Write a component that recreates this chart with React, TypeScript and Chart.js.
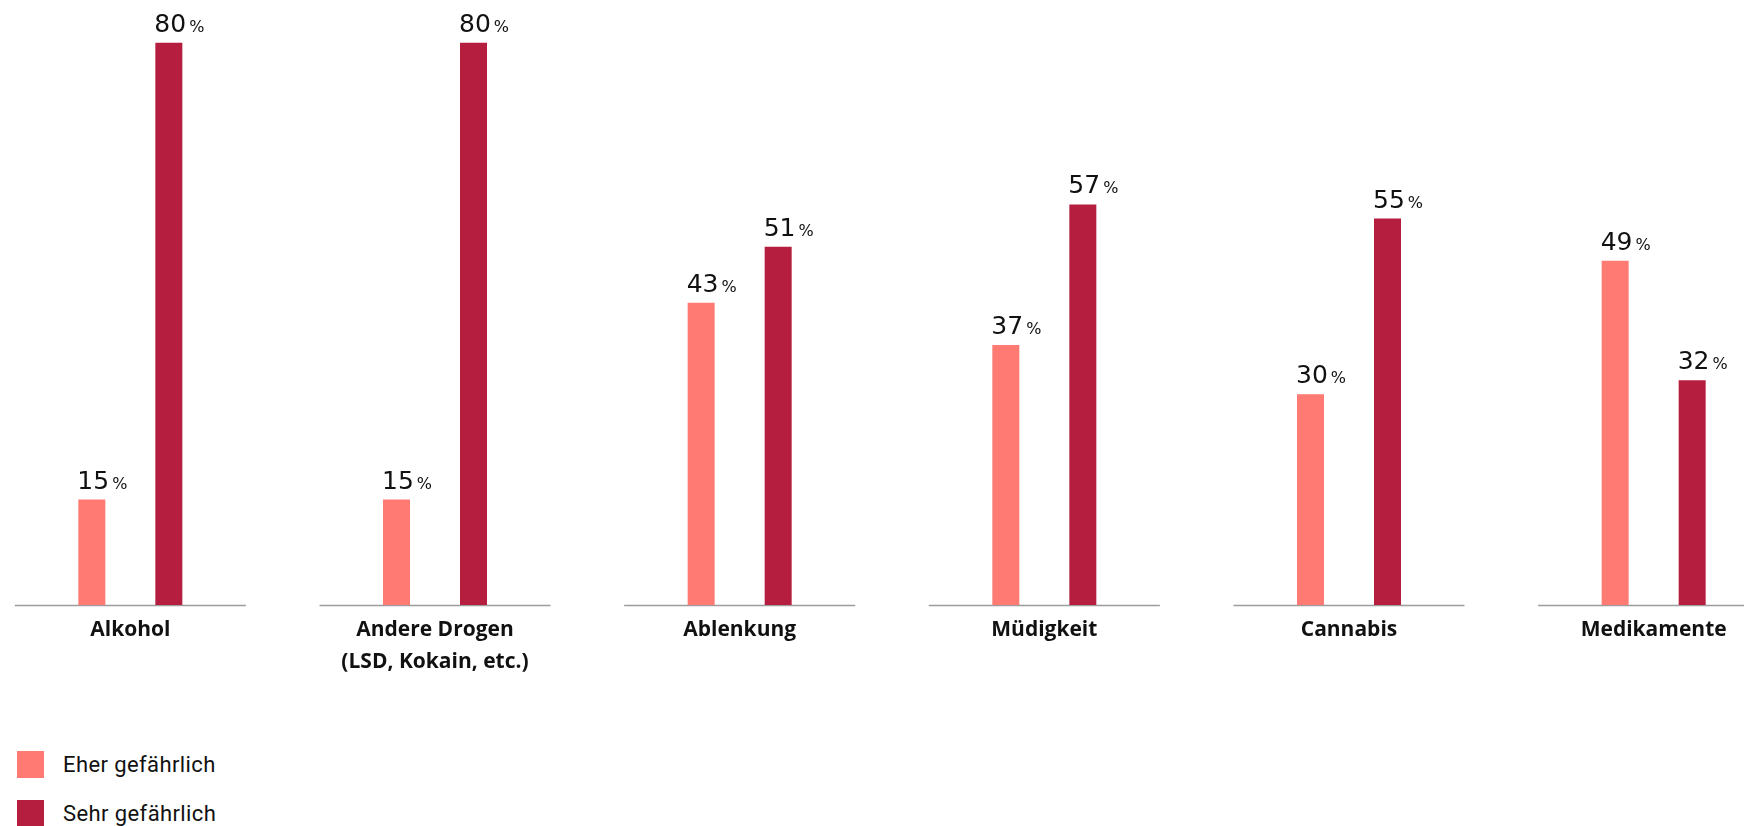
import React, { useEffect, useRef } from "react";
import { Chart, registerables } from "chart.js";

Chart.register(...registerables);

const categories: (string | string[])[] = [
  "Alkohol",
  ["Andere Drogen", "(LSD, Kokain, etc.)"],
  "Ablenkung",
  "Müdigkeit",
  "Cannabis",
  "Medikamente",
];
const eherGefaehrlich = [15, 15, 43, 37, 30, 49];
const sehrGefaehrlich = [80, 80, 51, 57, 55, 32];
const seriesNames = ["Eher gefährlich", "Sehr gefährlich"];
const seriesColors = ["#FF7A73", "#B51E3E"];

const baselinePlugin = {
  id: "segBaseline",
  beforeDatasetsDraw(chart: any) {
    const { ctx, scales } = chart;
    const x = scales.x;
    const y = scales.y;
    const y0 = y.getPixelForValue(0);
    ctx.save();
    ctx.strokeStyle = "#9c9c9c";
    ctx.lineWidth = 1.5;
    for (let i = 0; i < categories.length; i++) {
      const cx = x.getPixelForValue(i);
      ctx.beginPath();
      ctx.moveTo(cx - 115.5, y0 + 0.5);
      ctx.lineTo(cx + 115.5, y0 + 0.5);
      ctx.stroke();
    }
    ctx.restore();
  },
};

const valueLabelPlugin = {
  id: "valueLabels",
  afterDatasetsDraw(chart: any) {
    const { ctx } = chart;
    ctx.save();
    ctx.fillStyle = "#111111";
    ctx.textBaseline = "alphabetic";
    ctx.textAlign = "left";
    chart.data.datasets.forEach((ds: any, di: number) => {
      const meta = chart.getDatasetMeta(di);
      meta.data.forEach((bar: any, i: number) => {
        const left = bar.x - bar.width / 2;
        const top = bar.y - 11;
        const txt = String(ds.data[i]);
        ctx.font = "25px 'DejaVu Sans'";
        ctx.fillText(txt, left - 1, top);
        const w = ctx.measureText(txt).width;
        ctx.font = "16px 'DejaVu Sans'";
        ctx.fillText("%", left - 1 + w + 3, top);
      });
    });
    ctx.restore();
  },
};

export default function App() {
  const canvasRef = useRef<HTMLCanvasElement | null>(null);

  useEffect(() => {
    if (!canvasRef.current) return;
    const chart = new Chart(canvasRef.current, {
      type: "bar",
      data: {
        labels: categories,
        datasets: [
          {
            label: seriesNames[0],
            data: eherGefaehrlich,
            backgroundColor: seriesColors[0],
            categoryPercentage: 0.5055,
            barPercentage: 0.3506,
          },
          {
            label: seriesNames[1],
            data: sehrGefaehrlich,
            backgroundColor: seriesColors[1],
            categoryPercentage: 0.5055,
            barPercentage: 0.3506,
          },
        ],
      },
      options: {
        animation: false,
        responsive: false,
        maintainAspectRatio: false,
        layout: { padding: 0 },
        plugins: {
          legend: { display: false },
          tooltip: { enabled: false },
        },
        scales: {
          x: {
            grid: { display: false, drawTicks: false },
            border: { display: false },
            ticks: {
              color: "#111111",
              padding: 9,
              font: { family: "'Open Sans'", size: 21, weight: "bold", lineHeight: 1.52 },
              maxRotation: 0,
              autoSkip: false,
            },
            afterFit: (scale: any) => {
              scale.height = 95;
            },
          },
          y: {
            display: false,
            min: 0,
            max: 86.1,
          },
        },
      },
      plugins: [baselinePlugin, valueLabelPlugin],
    });
    return () => chart.destroy();
  }, []);

  return (
    <div
      style={{
        position: "fixed",
        left: 0,
        top: 0,
        width: 1744,
        height: 826,
        overflow: "hidden",
        background: "#ffffff",
      }}
    >
      <canvas
        ref={canvasRef}
        width={1828}
        height={700}
        style={{ position: "absolute", left: -22, top: 0, width: 1828, height: 700 }}
      />
      {seriesNames.map((name, i) => (
        <div
          key={name}
          style={{
            position: "absolute",
            left: 17,
            top: 751 + i * 49,
            height: 27,
            display: "flex",
            alignItems: "center",
            fontFamily: "Roboto",
            fontSize: 22,
            letterSpacing: 0.4,
            color: "#111111",
            whiteSpace: "nowrap",
          }}
        >
          <span
            style={{
              display: "inline-block",
              width: 27,
              height: 27,
              background: seriesColors[i],
              marginRight: 19,
            }}
          />
          <span>{name}</span>
        </div>
      ))}
    </div>
  );
}
